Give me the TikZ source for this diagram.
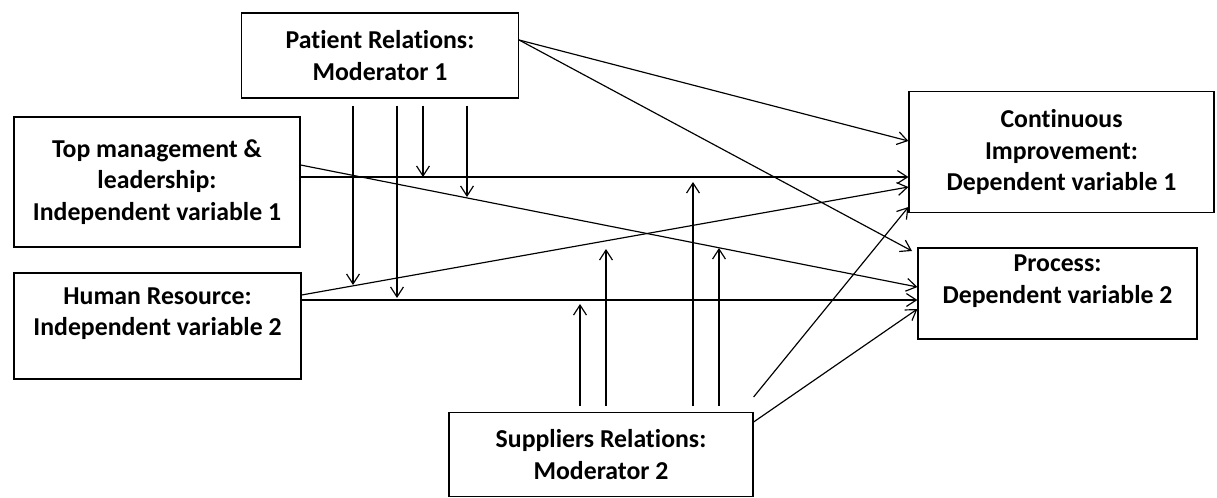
\documentclass[tikz,border=0pt]{standalone}
\usepackage{fontspec}
\setmainfont{Carlito}[Ligatures=NoCommon]
\usetikzlibrary{arrows.meta}
\begin{document}
\begin{tikzpicture} [
        x=0.03cm, y=-0.03cm,
        box/.style={draw, rectangle, line width=1pt, inner sep=0pt, align=center,
            font=\fontsize{22}{26.8}\selectfont\bfseries},
        link/.style={-{Straight Barb[length=8.5pt,width=11pt]}, line width=1pt} ]
    \useasboundingbox (0,0) rectangle (1217,497);
    \node[box, minimum width=8.31cm, minimum height=2.55cm] (pr) at (380,55.5) {Patient Relations:\\Moderator 1};
    \node[box, minimum width=8.58cm, minimum height=3.9cm] (tm) at (157,182) {Top management \&\\leadership:\\Independent variable 1};
    \node[box, minimum width=8.61cm, minimum height=3.18cm] (hr) at (157.5,326) {Human Resource:\\Independent variable 2\\[-2pt]\mbox{}};
    \node[box, minimum width=9.15cm, minimum height=3.63cm] (ci) at (1061.5,152) {Continuous\\Improvement:\\Dependent variable 1};
    \node[box, minimum width=8.37cm, minimum height=2.73cm] (pc) at (1057.5,293.5) {Process:\\Dependent variable 2\\[-2pt]\mbox{}};
    \node[box, minimum width=9.12cm, minimum height=2.52cm] (sr) at (601,454.5) {Suppliers Relations:\\Moderator 2};
    % free ends
    \coordinate (p1) at (912,251);
    \coordinate (a1) at (353,285);
    \coordinate (a2) at (397,298);
    \coordinate (a3) at (423,177);
    \coordinate (a4) at (467,197);
    \coordinate (b1) at (580,304);
    \coordinate (b2) at (606,249);
    \coordinate (b3) at (693,182);
    \coordinate (b4) at (719,248);
    % main paths
    \draw[link] (pr.east |- 0,40) -- (ci.west |- 0,141);
    \draw[link] (pr.east |- 0,40) -- (p1);
    \draw[link] (tm.east |- 0,177) -- (ci.west |- 0,177);
    \draw[link] (tm.east |- 0,165) -- (pc.west |- 0,287);
    \draw[link] (hr.east |- 0,295) -- (ci.west |- 0,187);
    \draw[link] (hr.east |- 0,300) -- (pc.west |- 0,300);
    \draw[link] (sr.east |- 0,397) -- (ci.west |- 0,207);
    \draw[link] (sr.east |- 0,422) -- (pc.west |- 0,309);
    % moderators
    \foreach \c in {a1,a2,a3,a4}
        \draw[link] ([yshift=-0.21cm]pr.south -| \c) -- (\c);
    \foreach \c in {b1,b2,b3,b4}
        \draw[link] ([yshift=0.18cm]sr.north -| \c) -- (\c);
\end{tikzpicture}
\end{document}
